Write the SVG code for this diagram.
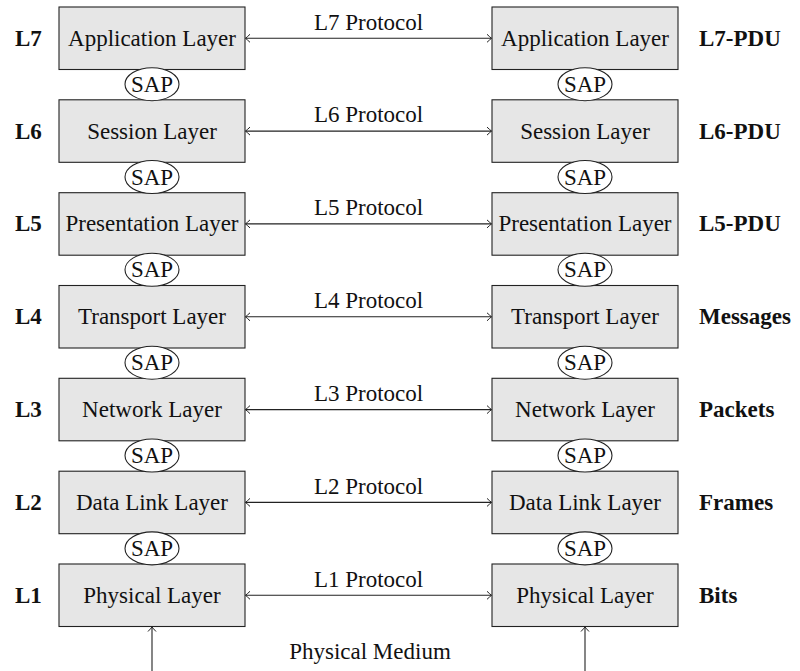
<svg xmlns="http://www.w3.org/2000/svg" width="800" height="671" viewBox="0 0 800 671" font-family="Liberation Serif, DejaVu Serif, serif">
<style>
.box{fill:#e6e6e6;stroke:#222;stroke-width:1.1}
.sap{fill:#fff;stroke:#222;stroke-width:1.1}
text{font-family:'Liberation Serif','DejaVu Serif',serif;font-size:23px;fill:#111}
.c{text-anchor:middle}
.b{font-weight:bold}
.ln{stroke:#222;stroke-width:1.1;fill:none}
</style>
<defs>
<marker id="ah" viewBox="-6 -5 7 10" markerWidth="7" markerHeight="10" refX="0" refY="0" orient="auto-start-reverse" markerUnits="userSpaceOnUse">
<path d="M-4.5,-4 Q-1.5,-1.2 0,0 Q-1.5,1.2 -4.5,4" fill="none" stroke="#222" stroke-width="1"/>
</marker>
</defs>
<rect width="800" height="671" fill="#fff"/>

<g id="connectors">
<line class="ln" x1="245.5" y1="38.3" x2="491.5" y2="38.3" marker-start="url(#ah)" marker-end="url(#ah)"/>
<line class="ln" x1="245.5" y1="131.1" x2="491.5" y2="131.1" marker-start="url(#ah)" marker-end="url(#ah)"/>
<line class="ln" x1="245.5" y1="223.9" x2="491.5" y2="223.9" marker-start="url(#ah)" marker-end="url(#ah)"/>
<line class="ln" x1="245.5" y1="316.8" x2="491.5" y2="316.8" marker-start="url(#ah)" marker-end="url(#ah)"/>
<line class="ln" x1="245.5" y1="409.6" x2="491.5" y2="409.6" marker-start="url(#ah)" marker-end="url(#ah)"/>
<line class="ln" x1="245.5" y1="502.4" x2="491.5" y2="502.4" marker-start="url(#ah)" marker-end="url(#ah)"/>
<line class="ln" x1="245.5" y1="595.3" x2="491.5" y2="595.3" marker-start="url(#ah)" marker-end="url(#ah)"/>
<line class="ln" x1="152" y1="671" x2="152" y2="627" marker-end="url(#ah)"/>
<line class="ln" x1="585" y1="671" x2="585" y2="627" marker-end="url(#ah)"/>
<text class="c" x="368.5" y="29.5">L7 Protocol</text>
<text class="c" x="368.5" y="122.3">L6 Protocol</text>
<text class="c" x="368.5" y="215.1">L5 Protocol</text>
<text class="c" x="368.5" y="308">L4 Protocol</text>
<text class="c" x="368.5" y="400.8">L3 Protocol</text>
<text class="c" x="368.5" y="493.6">L2 Protocol</text>
<text class="c" x="368.5" y="586.5">L1 Protocol</text>
<text class="c" x="370" y="659">Physical Medium</text>
</g>

<g id="L7-left"><rect class="box" x="59" y="7" width="186" height="62.5"/><text class="c" x="152" y="45.8">Application Layer</text></g>
<g id="L6-left"><rect class="box" x="59" y="99.8" width="186" height="62.5"/><text class="c" x="152" y="138.6">Session Layer</text></g>
<g id="L5-left"><rect class="box" x="59" y="192.7" width="186" height="62.5"/><text class="c" x="152" y="231.4">Presentation Layer</text></g>
<g id="L4-left"><rect class="box" x="59" y="285.5" width="186" height="62.5"/><text class="c" x="152" y="324.3">Transport Layer</text></g>
<g id="L3-left"><rect class="box" x="59" y="378.3" width="186" height="62.5"/><text class="c" x="152" y="417.1">Network Layer</text></g>
<g id="L2-left"><rect class="box" x="59" y="471.2" width="186" height="62.5"/><text class="c" x="152" y="509.9">Data Link Layer</text></g>
<g id="L1-left"><rect class="box" x="59" y="564" width="186" height="62.5"/><text class="c" x="152" y="602.8">Physical Layer</text></g>

<g id="L7-right"><rect class="box" x="492" y="7" width="186" height="62.5"/><text class="c" x="585" y="45.8">Application Layer</text></g>
<g id="L6-right"><rect class="box" x="492" y="99.8" width="186" height="62.5"/><text class="c" x="585" y="138.6">Session Layer</text></g>
<g id="L5-right"><rect class="box" x="492" y="192.7" width="186" height="62.5"/><text class="c" x="585" y="231.4">Presentation Layer</text></g>
<g id="L4-right"><rect class="box" x="492" y="285.5" width="186" height="62.5"/><text class="c" x="585" y="324.3">Transport Layer</text></g>
<g id="L3-right"><rect class="box" x="492" y="378.3" width="186" height="62.5"/><text class="c" x="585" y="417.1">Network Layer</text></g>
<g id="L2-right"><rect class="box" x="492" y="471.2" width="186" height="62.5"/><text class="c" x="585" y="509.9">Data Link Layer</text></g>
<g id="L1-right"><rect class="box" x="492" y="564" width="186" height="62.5"/><text class="c" x="585" y="602.8">Physical Layer</text></g>

<g id="sap-left-76"><ellipse class="sap" cx="152" cy="84.2" rx="27" ry="16.5"/><text class="c" x="152" y="91.7">SAP</text></g>
<g id="sap-left-65"><ellipse class="sap" cx="152" cy="177" rx="27" ry="16.5"/><text class="c" x="152" y="184.5">SAP</text></g>
<g id="sap-left-54"><ellipse class="sap" cx="152" cy="269.8" rx="27" ry="16.5"/><text class="c" x="152" y="277.3">SAP</text></g>
<g id="sap-left-43"><ellipse class="sap" cx="152" cy="362.7" rx="27" ry="16.5"/><text class="c" x="152" y="370.2">SAP</text></g>
<g id="sap-left-32"><ellipse class="sap" cx="152" cy="455.5" rx="27" ry="16.5"/><text class="c" x="152" y="463">SAP</text></g>
<g id="sap-left-21"><ellipse class="sap" cx="152" cy="548.4" rx="27" ry="16.5"/><text class="c" x="152" y="555.9">SAP</text></g>

<g id="sap-right-76"><ellipse class="sap" cx="585" cy="84.2" rx="27" ry="16.5"/><text class="c" x="585" y="91.7">SAP</text></g>
<g id="sap-right-65"><ellipse class="sap" cx="585" cy="177" rx="27" ry="16.5"/><text class="c" x="585" y="184.5">SAP</text></g>
<g id="sap-right-54"><ellipse class="sap" cx="585" cy="269.8" rx="27" ry="16.5"/><text class="c" x="585" y="277.3">SAP</text></g>
<g id="sap-right-43"><ellipse class="sap" cx="585" cy="362.7" rx="27" ry="16.5"/><text class="c" x="585" y="370.2">SAP</text></g>
<g id="sap-right-32"><ellipse class="sap" cx="585" cy="455.5" rx="27" ry="16.5"/><text class="c" x="585" y="463">SAP</text></g>
<g id="sap-right-21"><ellipse class="sap" cx="585" cy="548.4" rx="27" ry="16.5"/><text class="c" x="585" y="555.9">SAP</text></g>

<g id="labels-left">
<text class="b" x="15" y="45.8">L7</text>
<text class="b" x="15" y="138.6">L6</text>
<text class="b" x="15" y="231.4">L5</text>
<text class="b" x="15" y="324.3">L4</text>
<text class="b" x="15" y="417.1">L3</text>
<text class="b" x="15" y="509.9">L2</text>
<text class="b" x="15" y="602.8">L1</text>
</g>
<g id="labels-right">
<text class="b" x="699" y="45.8">L7-PDU</text>
<text class="b" x="699" y="138.6">L6-PDU</text>
<text class="b" x="699" y="231.4">L5-PDU</text>
<text class="b" x="699" y="324.3">Messages</text>
<text class="b" x="699" y="417.1">Packets</text>
<text class="b" x="699" y="509.9">Frames</text>
<text class="b" x="699" y="602.8">Bits</text>
</g>
</svg>
